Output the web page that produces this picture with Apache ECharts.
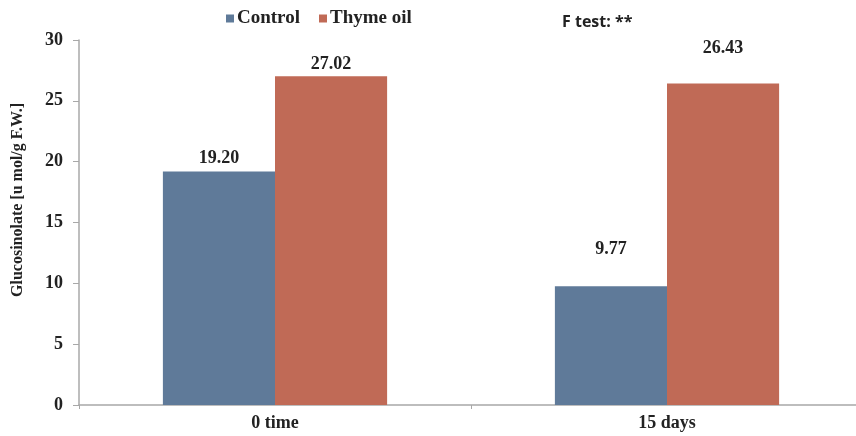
<!DOCTYPE html>
<html><head><meta charset="utf-8">
<script src="https://cdn.jsdelivr.net/npm/echarts@6/dist/echarts.min.js"></script>
<style>html,body{margin:0;padding:0;background:#fff}#c{width:856px;height:436px}</style>
</head><body><div id="c"></div>
<script>
const categories = ['0 time', '15 days'];
const controlValues = [19.20, 9.77];
const thymeValues = [27.02, 26.43];
const yTicks = [0, 5, 10, 15, 20, 25, 30];

const serif = '"Liberation Serif","DejaVu Serif",serif';
const labelDist = [[4, 28], [3, 26]];
function items(vals, s) {
  return vals.map((v, i) => ({ value: v, label: { distance: labelDist[s][i] } }));
}
const chart = echarts.init(document.getElementById('c'));
chart.setOption({
  animation: false,
  grid: { left: 79, width: 784, top: 40, bottom: 31, outerBoundsMode: 'none' },
  legend: {
    data: ['Control', 'Thyme oil'], left: 221, top: 4, itemWidth: 8, itemHeight: 8, itemGap: 19,
    icon: 'rect',
    textStyle: { fontFamily: serif, fontWeight: 'bold', fontSize: 19, color: '#222', padding: [0,0,0,-2] }
  },
  graphic: [{
    type: 'text', left: 562, top: 14,
    style: { text: 'F test: **', fontFamily: '"Open Sans","Noto Sans",sans-serif', fontWeight: 'bold', fontSize: 16, fill: '#222' }
  }, {
    type: 'text', x: 18, y: 200, rotation: Math.PI / 2,
    style: { text: 'Glucosinolate [u mol/g F.W.]', fontFamily: serif, fontWeight: 'bold', fontSize: 16,
      fill: '#222', align: 'center', verticalAlign: 'middle' }
  }],
  xAxis: {
    type: 'category', data: categories,
    axisLine: { lineStyle: { color: '#a8a8a8', width: 1.5 } },
    axisTick: { show: true, length: 4, lineStyle: { color: '#a8a8a8' } },
    axisLabel: { fontFamily: serif, fontWeight: 'bold', fontSize: 18, color: '#222', margin: 9 }
  },
  yAxis: {
    type: 'value', min: 0, max: 30, interval: 5,
    axisLine: { show: true, lineStyle: { color: '#a8a8a8', width: 1.5 } },
    axisTick: { show: true, length: 6, lineStyle: { color: '#a8a8a8' } },
    splitLine: { show: false },
    axisLabel: { fontFamily: serif, fontWeight: 'bold', fontSize: 18, color: '#222', margin: 16,
      formatter: v => yTicks.includes(v) ? String(v) : '' }
  },
  series: [
    { name: 'Control', type: 'bar', data: items(controlValues, 0), barWidth: '28.6%', barGap: '0%',
      itemStyle: { color: '#5f7a99' },
      label: { show: true, position: 'top', formatter: p => p.value.toFixed(2),
        fontFamily: serif, fontWeight: 'bold', fontSize: 18, color: '#222' } },
    { name: 'Thyme oil', type: 'bar', data: items(thymeValues, 1), barWidth: '28.6%', barGap: '0%',
      itemStyle: { color: '#c06a56' },
      label: { show: true, position: 'top', formatter: p => p.value.toFixed(2),
        fontFamily: serif, fontWeight: 'bold', fontSize: 18, color: '#222' } }
  ]
});
</script></body></html>
